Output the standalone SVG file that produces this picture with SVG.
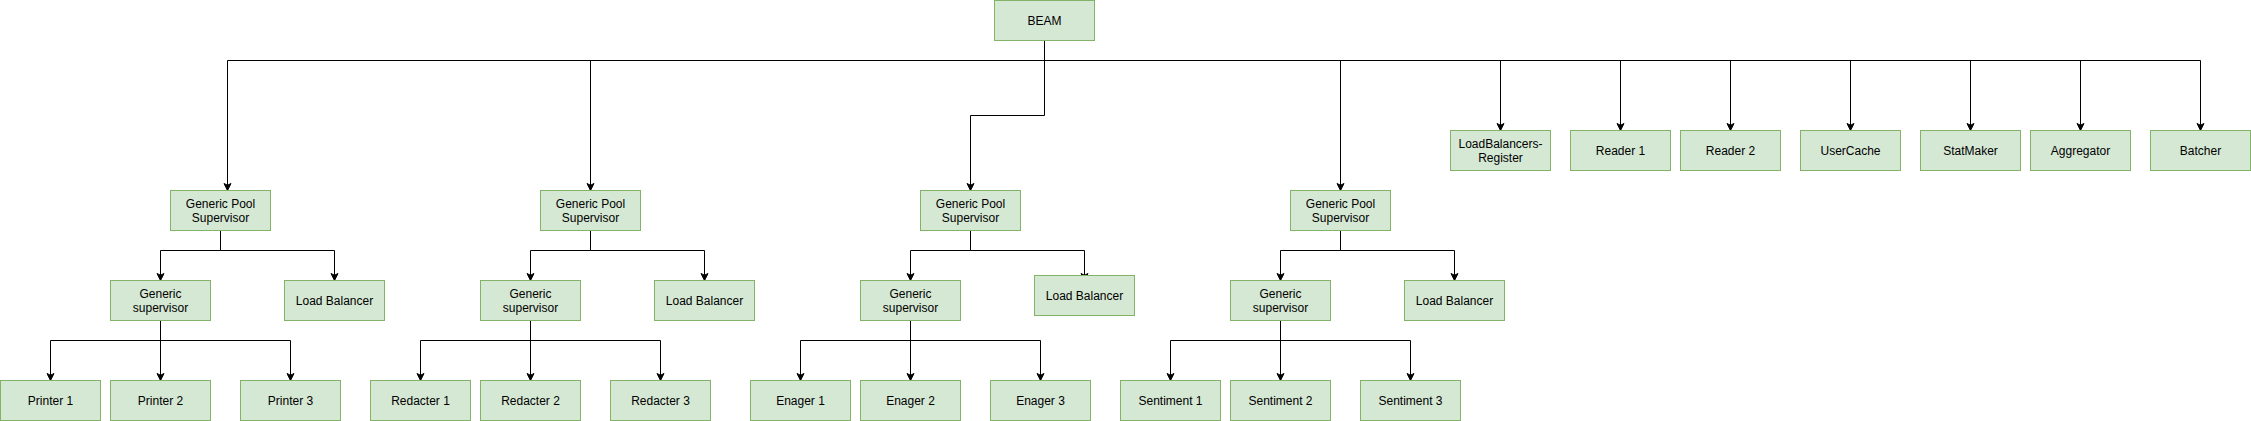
<svg xmlns="http://www.w3.org/2000/svg" width="2251" height="421" viewBox="0 0 2251 421">
<style>
.n rect{fill:#d5e8d4;stroke:#82b366;stroke-width:1}
.n text{font-family:"Liberation Sans",Helvetica,Arial,sans-serif;font-size:12px;fill:#000;text-anchor:middle}
#edges path{fill:none;stroke:#000;stroke-width:1;marker-end:url(#arr)}
</style>
<defs>
<marker id="arr" markerUnits="userSpaceOnUse" markerWidth="9" markerHeight="9" refX="7" refY="3.5" orient="auto" overflow="visible">
<path d="M0,0 L7,3.5 L0,7 L1.75,3.5 Z" fill="#000" stroke="#000" stroke-width="1"/>
</marker>
</defs>
<rect width="2251" height="421" fill="#fff"/>
<g id="edges">
<path d="M1044.5,40.5 V60.5 H227.5 V190.5"/>
<path d="M1044.5,40.5 V60.5 H590.5 V190.5"/>
<path d="M1044.5,40.5 V115.5 H970.5 V190.5"/>
<path d="M1044.5,40.5 V60.5 H1340.5 V190.5"/>
<path d="M1044.5,40.5 V60.5 H1500.5 V130.5"/>
<path d="M1044.5,40.5 V60.5 H1620.5 V130.5"/>
<path d="M1044.5,40.5 V60.5 H1730.5 V130.5"/>
<path d="M1044.5,40.5 V60.5 H1850.5 V130.5"/>
<path d="M1044.5,40.5 V60.5 H1970.5 V130.5"/>
<path d="M1044.5,40.5 V60.5 H2080.5 V130.5"/>
<path d="M1044.5,40.5 V60.5 H2200.5 V130.5"/>
<path d="M220.5,230.5 V250.5 H160.5 V280.5"/>
<path d="M220.5,230.5 V250.5 H334.5 V280.5"/>
<path d="M590.5,230.5 V250.5 H530.5 V280.5"/>
<path d="M590.5,230.5 V250.5 H704.5 V280.5"/>
<path d="M970.5,230.5 V250.5 H910.5 V280.5"/>
<path d="M970.5,230.5 V250.5 H1084.5 V280.5"/>
<path d="M1340.5,230.5 V250.5 H1280.5 V280.5"/>
<path d="M1340.5,230.5 V250.5 H1454.5 V280.5"/>
<path d="M160.5,320.5 V340.5 H50.5 V380.5"/>
<path d="M160.5,320.5 V380.5"/>
<path d="M160.5,320.5 V340.5 H290.5 V380.5"/>
<path d="M530.5,320.5 V340.5 H420.5 V380.5"/>
<path d="M530.5,320.5 V380.5"/>
<path d="M530.5,320.5 V340.5 H660.5 V380.5"/>
<path d="M910.5,320.5 V340.5 H800.5 V380.5"/>
<path d="M910.5,320.5 V380.5"/>
<path d="M910.5,320.5 V340.5 H1040.5 V380.5"/>
<path d="M1280.5,320.5 V340.5 H1170.5 V380.5"/>
<path d="M1280.5,320.5 V380.5"/>
<path d="M1280.5,320.5 V340.5 H1410.5 V380.5"/>
</g>
<g id="beam" class="n"><rect x="994.5" y="0.5" width="100" height="40"/><text x="1044.5" y="24.8">BEAM</text></g>
<g id="gps1" class="n"><rect x="170.5" y="190.5" width="100" height="40"/><text x="220.5" y="207.6">Generic Pool</text><text x="220.5" y="222">Supervisor</text></g>
<g id="gs1" class="n"><rect x="110.5" y="280.5" width="100" height="40"/><text x="160.5" y="297.6">Generic</text><text x="160.5" y="312">supervisor</text></g>
<g id="lb1" class="n"><rect x="284.5" y="280.5" width="100" height="40"/><text x="334.5" y="304.8">Load Balancer</text></g>
<g id="printer1" class="n"><rect x="0.5" y="380.5" width="100" height="40"/><text x="50.5" y="404.8">Printer 1</text></g>
<g id="printer2" class="n"><rect x="110.5" y="380.5" width="100" height="40"/><text x="160.5" y="404.8">Printer 2</text></g>
<g id="printer3" class="n"><rect x="240.5" y="380.5" width="100" height="40"/><text x="290.5" y="404.8">Printer 3</text></g>
<g id="gps2" class="n"><rect x="540.5" y="190.5" width="100" height="40"/><text x="590.5" y="207.6">Generic Pool</text><text x="590.5" y="222">Supervisor</text></g>
<g id="gs2" class="n"><rect x="480.5" y="280.5" width="100" height="40"/><text x="530.5" y="297.6">Generic</text><text x="530.5" y="312">supervisor</text></g>
<g id="lb2" class="n"><rect x="654.5" y="280.5" width="100" height="40"/><text x="704.5" y="304.8">Load Balancer</text></g>
<g id="redacter1" class="n"><rect x="370.5" y="380.5" width="100" height="40"/><text x="420.5" y="404.8">Redacter 1</text></g>
<g id="redacter2" class="n"><rect x="480.5" y="380.5" width="100" height="40"/><text x="530.5" y="404.8">Redacter 2</text></g>
<g id="redacter3" class="n"><rect x="610.5" y="380.5" width="100" height="40"/><text x="660.5" y="404.8">Redacter 3</text></g>
<g id="gps3" class="n"><rect x="920.5" y="190.5" width="100" height="40"/><text x="970.5" y="207.6">Generic Pool</text><text x="970.5" y="222">Supervisor</text></g>
<g id="gs3" class="n"><rect x="860.5" y="280.5" width="100" height="40"/><text x="910.5" y="297.6">Generic</text><text x="910.5" y="312">supervisor</text></g>
<g id="lb3" class="n"><rect x="1034.5" y="275.5" width="100" height="40"/><text x="1084.5" y="299.8">Load Balancer</text></g>
<g id="enager1" class="n"><rect x="750.5" y="380.5" width="100" height="40"/><text x="800.5" y="404.8">Enager 1</text></g>
<g id="enager2" class="n"><rect x="860.5" y="380.5" width="100" height="40"/><text x="910.5" y="404.8">Enager 2</text></g>
<g id="enager3" class="n"><rect x="990.5" y="380.5" width="100" height="40"/><text x="1040.5" y="404.8">Enager 3</text></g>
<g id="gps4" class="n"><rect x="1290.5" y="190.5" width="100" height="40"/><text x="1340.5" y="207.6">Generic Pool</text><text x="1340.5" y="222">Supervisor</text></g>
<g id="gs4" class="n"><rect x="1230.5" y="280.5" width="100" height="40"/><text x="1280.5" y="297.6">Generic</text><text x="1280.5" y="312">supervisor</text></g>
<g id="lb4" class="n"><rect x="1404.5" y="280.5" width="100" height="40"/><text x="1454.5" y="304.8">Load Balancer</text></g>
<g id="sentiment1" class="n"><rect x="1120.5" y="380.5" width="100" height="40"/><text x="1170.5" y="404.8">Sentiment 1</text></g>
<g id="sentiment2" class="n"><rect x="1230.5" y="380.5" width="100" height="40"/><text x="1280.5" y="404.8">Sentiment 2</text></g>
<g id="sentiment3" class="n"><rect x="1360.5" y="380.5" width="100" height="40"/><text x="1410.5" y="404.8">Sentiment 3</text></g>
<g id="lbregister" class="n"><rect x="1450.5" y="130.5" width="100" height="40"/><text x="1500.5" y="147.6">LoadBalancers-</text><text x="1500.5" y="162">Register</text></g>
<g id="reader1" class="n"><rect x="1570.5" y="130.5" width="100" height="40"/><text x="1620.5" y="154.8">Reader 1</text></g>
<g id="reader2" class="n"><rect x="1680.5" y="130.5" width="100" height="40"/><text x="1730.5" y="154.8">Reader 2</text></g>
<g id="usercache" class="n"><rect x="1800.5" y="130.5" width="100" height="40"/><text x="1850.5" y="154.8">UserCache</text></g>
<g id="statmaker" class="n"><rect x="1920.5" y="130.5" width="100" height="40"/><text x="1970.5" y="154.8">StatMaker</text></g>
<g id="aggregator" class="n"><rect x="2030.5" y="130.5" width="100" height="40"/><text x="2080.5" y="154.8">Aggregator</text></g>
<g id="batcher" class="n"><rect x="2150.5" y="130.5" width="100" height="40"/><text x="2200.5" y="154.8">Batcher</text></g>
</svg>
